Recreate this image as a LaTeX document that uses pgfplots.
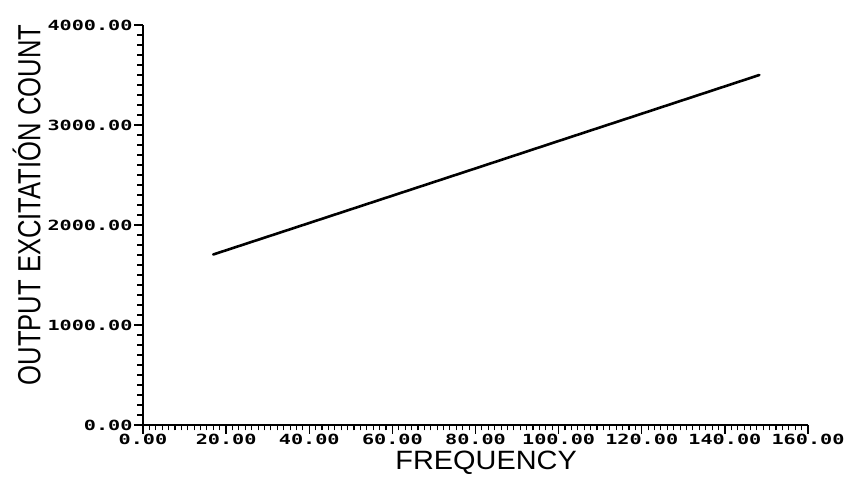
\documentclass[border=0pt]{standalone}
\usepackage{fontspec}
\usepackage{pgfplots}
\pgfplotsset{compat=1.18}
\setmainfont{Liberation Sans}
\newfontfamily\ylblfont[FakeStretch=0.80]{Liberation Sans}
\newfontfamily\xlblfont[FakeStretch=1.09]{Liberation Sans}
\newfontfamily\tickfont[FakeStretch=1.44]{DejaVu Sans Mono}
\begin{document}
\begin{tikzpicture}
\useasboundingbox (-143pt,-53pt) rectangle (701pt,425pt);
\begin{axis}[
  scale only axis,
  width=665pt, height=400pt,
  xmin=0, xmax=160, ymin=0, ymax=4000,
  axis x line*=bottom, axis y line*=left,
  axis line style={line width=2.4pt, -},
  x axis line style={line width=1.6pt},
  xtick={0,20,...,160},
  ytick={0,1000,...,4000},
  xticklabels={0.00,20.00,40.00,60.00,80.00,100.00,120.00,140.00,160.00},
  yticklabels={0.00,1000.00,2000.00,3000.00,4000.00},
  minor x tick num=12,
  minor y tick num=9,
  tick align=outside,
  major tick length=9pt,
  minor tick length=5.5pt,
  every tick/.style={line width=1.4pt, black},
  every minor tick/.style={line width=1.1pt, black},
  tick label style={font=\tickfont\bfseries\fontsize{14}{14}\selectfont},
  yticklabel style={anchor=east, xshift=2pt},
  xticklabel style={anchor=north, inner sep=1pt, yshift=1.5pt},
  xlabel={\xlblfont\fontsize{26.5}{26.5}\selectfont FREQUENCY},
  ylabel={\ylblfont\fontsize{32}{32}\selectfont OUTPUT EXCITATIÓN COUNT},
  xlabel style={at={(axis description cs:0.516,-0.094)}, anchor=center, inner sep=0pt},
  ylabel style={at={(axis description cs:-0.175,0.55)}, anchor=center, rotate=0},
  clip=false,
]
\addplot[black, line width=2.6pt, line cap=round] coordinates {
  (16.9,1705) (40,2020) (60,2293) (80,2566) (100,2840) (120,3113) (148.3,3500)
};
\end{axis}
\end{tikzpicture}
\end{document}
